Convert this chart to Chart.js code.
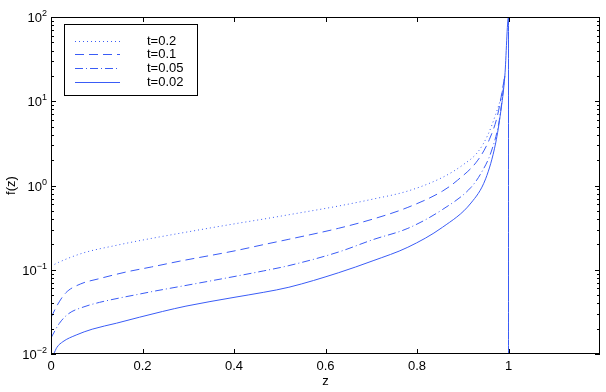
<!DOCTYPE html>
<html>
<head>
<meta charset="utf-8">
<script src="https://cdn.jsdelivr.net/npm/chart.js@4.4.1/dist/chart.umd.min.js"></script>
<style>
  html, body { margin: 0; padding: 0; background: #fff; }
  #wrap { width: 606px; height: 392px; }
</style>
</head>
<body>
<div id="wrap"><canvas id="chart"></canvas></div>
<script>
// values (log y axis)
const z20 = [0, 0.016, 0.07, 0.143, 0.2, 0.28, 0.4, 0.465, 0.52, 0.628, 0.704, 0.78, 0.856, 0.9, 0.933, 0.955, 0.972, 0.985, 0.992];
const f20 = [0.11, 0.122, 0.158, 0.195, 0.225, 0.27, 0.35, 0.40, 0.45, 0.57, 0.69, 0.86, 1.25, 1.75, 2.5, 4.0, 7, 12, 20];

const z10 = [0, 0.0137, 0.032, 0.065, 0.104, 0.164, 0.22, 0.28, 0.4, 0.465, 0.52, 0.628, 0.704, 0.78, 0.856, 0.889, 0.933, 0.958, 0.976, 0.992];
const f10 = [0.027, 0.038, 0.053, 0.068, 0.078, 0.094, 0.108, 0.126, 0.167, 0.199, 0.23, 0.31, 0.40, 0.55, 0.86, 1.16, 2.0, 3.5, 6.8, 20];

const z05 = [0, 0.018, 0.038, 0.07, 0.106, 0.148, 0.19, 0.228, 0.28, 0.4, 0.465, 0.52, 0.628, 0.704, 0.78, 0.856, 0.918, 0.94, 0.962, 0.98, 0.992];
const f05 = [0.0155, 0.023, 0.030, 0.036, 0.041, 0.046, 0.051, 0.056, 0.063, 0.083, 0.097, 0.112, 0.162, 0.228, 0.31, 0.52, 0.95, 1.4, 2.5, 6.0, 20];

const z02 = [0.006, 0.013, 0.026, 0.055, 0.09, 0.143, 0.193, 0.244, 0.295, 0.4, 0.465, 0.52, 0.628, 0.704, 0.78, 0.856, 0.918, 0.95, 0.972, 0.983, 0.992, 1, 1];
const f02 = [0.01, 0.012, 0.014, 0.0168, 0.0197, 0.0232, 0.0273, 0.032, 0.037, 0.047, 0.054, 0.062, 0.092, 0.128, 0.185, 0.32, 0.62, 1.2, 3.2, 7.5, 20, 100, 0.01];

const labels = ['t=0.2', 't=0.1', 't=0.05', 't=0.02'];
const xTicks = [0, 0.2, 0.4, 0.6, 0.8, 1];
const yDecades = [-2, -1, 0, 1, 2];

const blue = '#3a5cf6';
const FONT = '"Liberation Sans", Arial, sans-serif';

function pts(zs, fs) {
    return zs.map((z, i) => ({ x: z, y: fs[i] }));
}

// MATLAB-like box with inward ticks, plus labels
const boxAxes = {
    id: 'boxAxes',
    afterDraw(chart) {
        const { ctx, chartArea: a, scales } = chart;
        const xs = scales.x, ys = scales.y;
        ctx.save();
        ctx.strokeStyle = '#000';
        ctx.lineWidth = 1;
        ctx.strokeRect(a.left + 0.5, a.top + 0.5, a.right - a.left - 1, a.bottom - a.top - 1);

        ctx.beginPath();
        xTicks.forEach(v => {
            const px = Math.round(xs.getPixelForValue(v)) + 0.5;
            ctx.moveTo(px, a.bottom); ctx.lineTo(px, a.bottom - 5);
            ctx.moveTo(px, a.top); ctx.lineTo(px, a.top + 5);
        });
        yDecades.forEach(d => {
            for (let m = 1; m <= 9; m++) {
                const v = m * Math.pow(10, d);
                if (v > 100 || v < 0.01) continue;
                const py = Math.round(ys.getPixelForValue(v)) + 0.5;
                const len = m === 1 ? 5 : 3;
                ctx.moveTo(a.left, py); ctx.lineTo(a.left + len, py);
                ctx.moveTo(a.right, py); ctx.lineTo(a.right - len, py);
            }
        });
        ctx.stroke();

        ctx.fillStyle = '#000';
        ctx.font = '13px ' + FONT;
        ctx.textAlign = 'center';
        ctx.textBaseline = 'top';
        xTicks.forEach(v => {
            ctx.fillText(String(v), xs.getPixelForValue(v), a.bottom + 6);
        });
        ctx.fillText('z', (a.left + a.right) / 2, a.bottom + 21);

        yDecades.forEach(d => {
            const py = ys.getPixelForValue(Math.pow(10, d));
            const sup = String(d).replace('-', '\u2212');
            ctx.font = '9px ' + FONT;
            const sw = ctx.measureText(sup).width;
            const right = a.left - 4;
            ctx.textAlign = 'right';
            ctx.textBaseline = 'alphabetic';
            ctx.fillText(sup, right, py - 1);
            ctx.font = '13px ' + FONT;
            ctx.fillText('10', right - sw, py + 5);
        });

        ctx.save();
        ctx.translate(11, (a.top + a.bottom) / 2);
        ctx.rotate(-Math.PI / 2);
        ctx.textAlign = 'center';
        ctx.textBaseline = 'middle';
        ctx.font = '13px ' + FONT;
        ctx.fillText('f(z)', 0, 0);
        ctx.restore();
        ctx.restore();
    }
};

// legend box in upper left, drawn from the datasets' own styles
const boxLegend = {
    id: 'boxLegend',
    afterDraw(chart) {
        const { ctx } = chart;
        const x0 = 64.5, y0 = 24.5, w = 133, h = 71;
        ctx.save();
        ctx.fillStyle = '#fff';
        ctx.fillRect(x0, y0, w, h);
        ctx.strokeStyle = '#000';
        ctx.lineWidth = 1;
        ctx.strokeRect(x0, y0, w, h);
        chart.data.datasets.forEach((ds, i) => {
            const y = Math.round(y0 + 16 + i * 13.7) + 0.5;
            ctx.strokeStyle = ds.borderColor;
            ctx.lineWidth = ds.borderWidth;
            ctx.setLineDash(ds.borderDash || []);
            ctx.beginPath();
            ctx.moveTo(75, y); ctx.lineTo(120, y);
            ctx.stroke();
            ctx.setLineDash([]);
            ctx.fillStyle = '#000';
            ctx.font = '13px ' + FONT;
            ctx.textAlign = 'left';
            ctx.textBaseline = 'middle';
            ctx.fillText(ds.label, 147, y);
        });
        ctx.restore();
    }
};

function series(label, zs, fs, dash) {
    return {
        label,
        data: pts(zs, fs),
        borderColor: blue,
        borderWidth: 1,
        borderDash: dash,
        pointRadius: 0,
        fill: false,
        cubicInterpolationMode: 'monotone'
    };
}

new Chart(document.getElementById('chart'), {
    type: 'line',
    data: {
        datasets: [
            series(labels[0], z20, f20, [1, 3]),
            series(labels[1], z10, f10, [9, 5]),
            series(labels[2], z05, f05, [8, 3, 1, 3]),
            series(labels[3], z02, f02, [])
        ]
    },
    options: {
        responsive: true,
        maintainAspectRatio: false,
        animation: false,
        layout: { padding: { left: 51, top: 17, right: 6, bottom: 38 } },
        scales: {
            x: { type: 'linear', min: 0, max: 1.2, display: false },
            y: { type: 'logarithmic', min: 0.01, max: 100, display: false }
        },
        plugins: {
            legend: { display: false },
            tooltip: { enabled: false }
        }
    },
    plugins: [boxAxes, boxLegend]
});
</script>
</body>
</html>
